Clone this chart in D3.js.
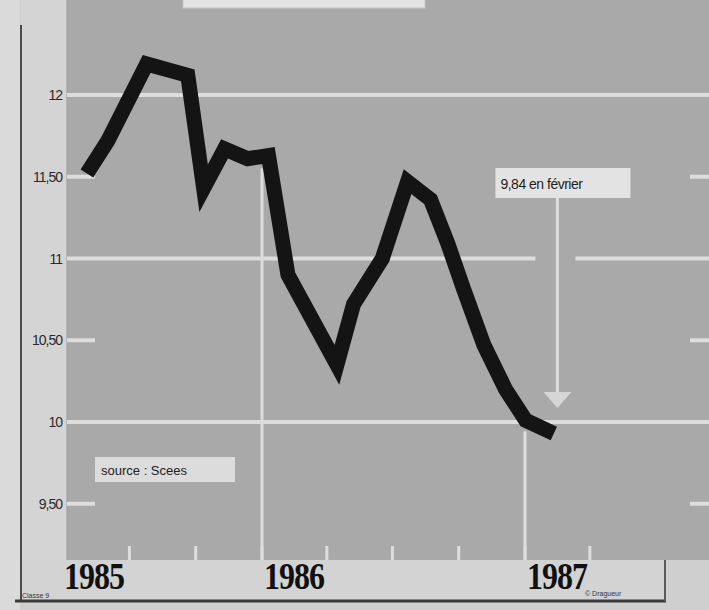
<!DOCTYPE html>
<html>
  <head>
    <meta charset="utf-8">
    <title>Taux 1985-1987</title>
    <script src="https://d3js.org/d3.v7.min.js"></script>
    <style>
      body { margin: 0; background: #cfcfcf; }
      svg { display: block; }
    </style>
  </head>
  <body>
    <div id="chart"></div>

    <script type="text/javascript">
      // data (dates estimated from x position)
      var dates = ["1985-05-03", "1985-06-01", "1985-07-25", "1985-09-20", "1985-10-12",
                   "1985-11-10", "1985-12-12", "1986-01-10", "1986-02-06", "1986-04-15",
                   "1986-05-08", "1986-06-17", "1986-07-22", "1986-08-23", "1986-09-16",
                   "1986-10-08", "1986-11-05", "1986-12-05", "1987-01-02", "1987-02-10"];
      var values = [11.52, 11.72, 12.19, 12.12, 11.43,
                    11.67, 11.61, 11.63, 10.90, 10.35,
                    10.72, 11.00, 11.47, 11.36, 11.09,
                    10.81, 10.47, 10.20, 10.01, 9.93];

      var yTicks = [12, 11.5, 11, 10.5, 10, 9.5];
      var yTickLabels = ["12", "11,50", "11", "10,50", "10", "9,50"];
      var fullGrid = [12, 11, 10];
      var years = ["1985", "1986", "1987"];
      var annotationText = "9,84 en février";
      var annotationDate = "1987-02-15";
      var sourceText = "source : Scees";

      var width = 709,
          height = 610;
      var plot = {left: 67, right: 709, top: 0, bottom: 560};

      var parse = d3.timeParse("%Y-%m-%d");
      var data = dates.map(function(d, i) { return {date: parse(d), value: values[i]}; });

      var x = d3.scaleTime()
          .domain([new Date(1986, 0, 1), new Date(1987, 0, 1)])
          .range([262, 525]);
      var y = d3.scaleLinear()
          .domain([10, 12])
          .range([422, 95]);

      var gridColor = '#dddddd';

      var svg = d3.select('#chart').append('svg')
          .attr('width', width)
          .attr('height', height);

      // background panels
      svg.append('rect').attr('x', 0).attr('y', 0).attr('width', width).attr('height', height).attr('fill', '#cfcfcf');
      svg.append('rect').attr('x', 0).attr('y', 0).attr('width', 20).attr('height', height).attr('fill', '#dadada');
      svg.append('rect').attr('x', 21).attr('y', 0).attr('width', plot.left - 21).attr('height', 600).attr('fill', '#d4d4d4');
      svg.append('rect').attr('x', 21).attr('y', plot.bottom).attr('width', 644).attr('height', 41).attr('fill', '#d3d3d3');
      svg.append('rect')
          .attr('x', plot.left).attr('y', plot.top)
          .attr('width', plot.right - plot.left).attr('height', plot.bottom - plot.top)
          .attr('fill', '#a9a9a9');

      // frame lines
      svg.append('line').attr('x1', 21).attr('x2', 21).attr('y1', 25).attr('y2', 601)
          .attr('stroke', '#4a4a4a').attr('stroke-width', 2);
      svg.append('line').attr('x1', 15).attr('x2', 666).attr('y1', 601).attr('y2', 601)
          .attr('stroke', '#3a3a3a').attr('stroke-width', 3);
      svg.append('line').attr('x1', 665).attr('x2', 665).attr('y1', plot.bottom).attr('y2', 601)
          .attr('stroke', '#5a5a5a').attr('stroke-width', 2);
      svg.append('line').attr('x1', plot.left).attr('x2', plot.left).attr('y1', 0).attr('y2', plot.bottom)
          .attr('stroke', '#9a9a9a').attr('stroke-width', 1);

      // title box, cut off at the top of the scan
      svg.append('rect').attr('x', 183).attr('y', -20).attr('width', 242).attr('height', 28)
          .attr('fill', '#e2e2e2').attr('stroke', '#c8c8c8');

      var g = svg.append('g');

      // horizontal gridlines
      g.selectAll('.hgrid')
          .data(fullGrid)
          .enter().append('line')
          .attr('class', 'hgrid')
          .attr('x1', plot.left).attr('x2', plot.right)
          .attr('y1', function(d) { return y(d); })
          .attr('y2', function(d) { return y(d); })
          .attr('stroke', gridColor).attr('stroke-width', 4);

      // short ticks for the half values, left and right
      var halfTicks = yTicks.filter(function(d) { return fullGrid.indexOf(d) < 0; });
      [[plot.left, plot.left + 28], [plot.right - 19, plot.right]].forEach(function(r) {
        g.selectAll(null)
            .data(halfTicks)
            .enter().append('line')
            .attr('x1', r[0]).attr('x2', r[1])
            .attr('y1', function(d) { return y(d); })
            .attr('y2', function(d) { return y(d); })
            .attr('stroke', gridColor).attr('stroke-width', 4);
      });

      // y labels
      svg.selectAll('.ylab')
          .data(yTicks)
          .enter().append('text')
          .attr('class', 'ylab')
          .attr('x', 62)
          .attr('y', function(d) { return y(d) + 5; })
          .attr('text-anchor', 'end')
          .attr('font-family', 'Liberation Sans, Arial, sans-serif')
          .attr('font-size', 14)
          .attr('letter-spacing', -1)
          .attr('fill', '#2a2a2a')
          .text(function(d, i) { return yTickLabels[i]; });

      // vertical year gridlines, from the curve down
      var bisect = d3.bisector(function(d) { return d.date; }).left;
      function valueAt(date) {
        var i = bisect(data, date);
        var a = data[i - 1], b = data[i];
        var t = (date - a.date) / (b.date - a.date);
        return a.value + t * (b.value - a.value);
      }
      var yearGrid = [new Date(1986, 0, 1), new Date(1987, 0, 1)];
      g.selectAll('.vgrid')
          .data(yearGrid)
          .enter().append('line')
          .attr('class', 'vgrid')
          .attr('x1', function(d) { return x(d); })
          .attr('x2', function(d) { return x(d); })
          .attr('y1', function(d) { return y(valueAt(d)) + 12; })
          .attr('y2', plot.bottom)
          .attr('stroke', gridColor).attr('stroke-width', 3);

      // quarter ticks at the bottom
      var quarters = d3.timeMonth.every(3).range(new Date(1985, 5, 1), new Date(1987, 5, 1));
      g.selectAll('.qtick')
          .data(quarters)
          .enter().append('line')
          .attr('class', 'qtick')
          .attr('x1', function(d) { return x(d); })
          .attr('x2', function(d) { return x(d); })
          .attr('y1', plot.bottom - 14).attr('y2', plot.bottom)
          .attr('stroke', gridColor).attr('stroke-width', 3);

      // annotation : box, leader line and arrow
      var ax = x(parse(annotationDate));
      g.append('rect')
          .attr('x', ax - 22).attr('y', y(11) - 8).attr('width', 40).attr('height', 16)
          .attr('fill', '#a9a9a9');
      g.append('line')
          .attr('x1', ax).attr('x2', ax).attr('y1', 198).attr('y2', 394)
          .attr('stroke', gridColor).attr('stroke-width', 3);
      g.append('path')
          .attr('d', 'M' + (ax - 14) + ',392 L' + (ax + 14) + ',392 L' + ax + ',408 Z')
          .attr('fill', '#d6d6d6');
      g.append('rect')
          .attr('x', ax - 62).attr('y', 168).attr('width', 135).attr('height', 30)
          .attr('fill', '#e3e3e3');
      g.append('text')
          .attr('x', ax - 57).attr('y', 189)
          .attr('font-family', 'Liberation Sans, Arial, sans-serif')
          .attr('font-size', 14)
          .attr('letter-spacing', -0.5)
          .attr('fill', '#1e1e1e')
          .text(annotationText);

      // source box
      g.append('rect')
          .attr('x', 95).attr('y', 457).attr('width', 140).attr('height', 25)
          .attr('fill', '#dcdcdc');
      g.append('text')
          .attr('x', 101).attr('y', 475)
          .attr('font-family', 'Liberation Sans, Arial, sans-serif')
          .attr('font-size', 13)
          .attr('fill', '#222')
          .text(sourceText);

      // the curve
      var line = d3.line()
          .x(function(d) { return x(d.date); })
          .y(function(d) { return y(d.value); });

      g.append('path')
          .datum(data)
          .attr('d', line)
          .attr('fill', 'none')
          .attr('stroke', '#141414')
          .attr('stroke-width', 15)
          .attr('stroke-linejoin', 'miter')
          .attr('stroke-miterlimit', 5);

      // year labels
      svg.selectAll('.year')
          .data(years)
          .enter().append('text')
          .attr('class', 'year')
          .attr('transform', function(d) {
            var px = Math.max(x(new Date(+d, 0, 1)) + 2, 64);
            return 'translate(' + px + ',589) scale(1,1.2)';
          })
          .attr('font-family', 'Liberation Serif, Times New Roman, serif')
          .attr('font-weight', 'bold')
          .attr('font-size', 32)
          .attr('letter-spacing', -1)
          .attr('fill', '#111')
          .text(function(d) { return d; });

      // tiny credits at the bottom corners
      svg.append('text')
          .attr('x', 22).attr('y', 598)
          .attr('font-family', 'Liberation Sans, Arial, sans-serif')
          .attr('font-size', 7)
          .attr('fill', '#333')
          .text('Classe 9');
      svg.append('text')
          .attr('x', 585).attr('y', 596)
          .attr('font-family', 'Liberation Sans, Arial, sans-serif')
          .attr('font-size', 7)
          .attr('fill', '#333')
          .text('© Dragueur');
    </script>
  </body>
</html>
